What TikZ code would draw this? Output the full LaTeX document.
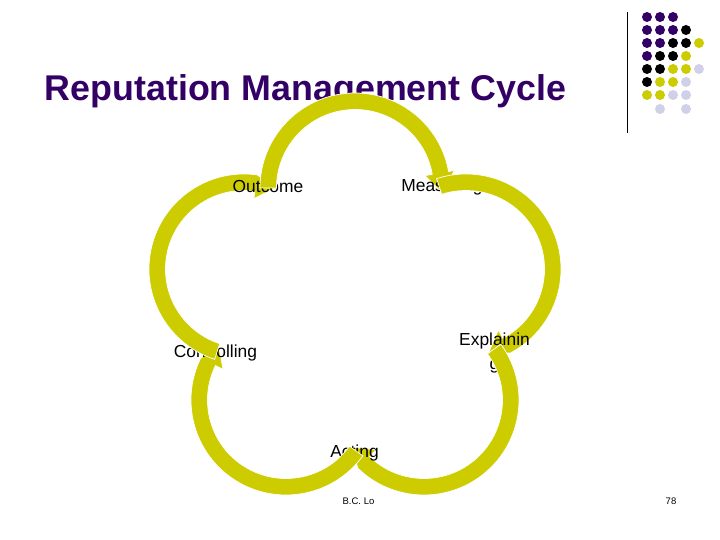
\documentclass[tikz,border=0pt]{standalone}
\usepackage{fontspec}
\setmainfont{Liberation Sans}
\definecolor{tpurple}{HTML}{330066}
\definecolor{tyellow}{HTML}{CCCC00}
\definecolor{tlight}{HTML}{D0D0E8}
\newcommand{\petal}[4]{%
  \path[petalstyle,shift={(#1)},rotate=#2]
    (180:78.5) -- (180:95) arc[start angle=180,end angle=10,radius=95]
    -- (10:#3) -- (-3:87) -- (10:#4) -- (10:78.5)
    arc[start angle=10,end angle=180,radius=78.5] -- cycle;}
\newcommand{\dotrow}[3]{%
  \foreach \cl [count=\c from 0] in {#3} {%
    \ifx\cl\empty\else
      \fill[\cl] ({647+\c*13},{540-#1}) circle[radius=5];
    \fi}}
\begin{document}
\begin{tikzpicture}[x=1pt,y=1pt,
  petalstyle/.style={fill=tyellow,draw=white,line width=0.7pt,line join=miter},
  titletext/.style={text=tpurple,font=\fontsize{35.8}{42}\selectfont\bfseries,inner sep=0pt},
  labeltext/.style={text=black,font=\fontsize{17.4}{24}\selectfont,inner sep=0pt,align=center},
  foottext/.style={text=black,font=\fontsize{9.5}{11}\selectfont,inner sep=0pt}]
\useasboundingbox (0,0) rectangle (720,540);
\fill[white] (0,0) rectangle (720,540);
\node[titletext] (title) at (305.5,449) {Reputation Management Cycle};
\draw[black,line width=0.8pt] (627,528) coordinate (ruletop) -- (627,407) coordinate (rulebot);
\dotrow{17}{3}{tpurple,tpurple,tpurple}
\dotrow{30}{4}{tpurple,tpurple,tpurple,black}
\dotrow{43}{5}{tpurple,tpurple,black,black,tyellow}
\dotrow{56}{4}{tpurple,black,black,tyellow}
\dotrow{69}{5}{black,black,tyellow,tyellow,tlight}
\dotrow{82}{4}{black,tyellow,tyellow,tlight}
\dotrow{95}{4}{tyellow,tyellow,tlight,tlight}
\fill[tlight] (660,431) circle[radius=5] (686,431) circle[radius=5];
\node[foottext] (author) at (358.5,38.5) {B.C. Lo};
\node[foottext] (page) at (671,38.5) {78};
\coordinate (p1) at (355,352);
\coordinate (p2) at (466,271);
\coordinate (p3) at (424,140);
\coordinate (p4) at (286,140);
\coordinate (p5) at (244,271);
\petal{p5}{72}{95}{71}
\node[labeltext] (outcome) at (268,353) {Outcome};
\petal{p1}{0}{101}{71}
\node[labeltext] (measuring) at (442,353) {Measuring};
\petal{p2}{-72}{95}{69}
\node[labeltext] (explaining) at (494.5,187) {Explainin\\g};
\petal{p3}{-144}{95}{69}
\node[labeltext] (acting) at (354.5,87) {Acting};
\petal{p4}{-216}{95}{70}
\node[labeltext] (controlling) at (215.5,187) {Controlling};
\begin{scope}
  \clip (100,100) rectangle (300,240);
  \petal{p5}{72}{95}{71}
\end{scope}
\end{tikzpicture}
\end{document}
